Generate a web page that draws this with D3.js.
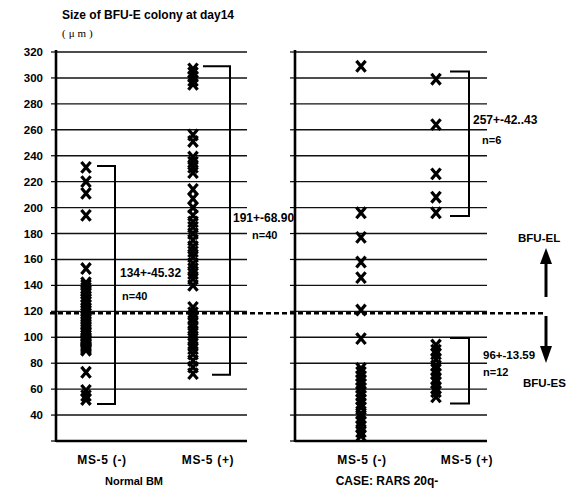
<!DOCTYPE html>
<html><head><meta charset="utf-8">
<script src="https://cdn.jsdelivr.net/npm/d3@7"></script>
<style>body{margin:0;background:#fff}svg{display:block}</style>
</head><body>
<svg id="c" width="572" height="488"></svg>
<script>
// ---- data ----
const tickValues = [40, 60, 80, 100, 120, 140, 160, 180, 200, 220, 240, 260, 280, 300, 320];
const categories = ["MS-5 (-)", "MS-5 (+)"];
const groups = ["Normal BM", "CASE: RARS 20q-"];
const threshold = 118.5;

const normalMinus = [231, 220, 211, 194, 153,
  142, 140, 138, 136, 134, 131, 129, 127, 125, 122, 120, 118, 116, 114, 112, 110,
  108, 106, 104, 103, 101, 99, 98, 97, 96, 95, 94, 93, 92, 91, 90,
  73, 59, 55, 52];
const normalPlus = [307, 304, 301, 298, 295,
  256, 251, 239, 235, 231, 227, 214, 207, 200, 194,
  189, 185, 180, 175, 170, 166, 162, 157, 153, 149, 145, 140,
  123, 119, 115, 111, 107, 103, 99, 95, 91, 87, 82, 77, 72];
const rarsMinus = [309, 196, 177, 158, 146, 121, 99,
  76, 73, 70, 67, 64, 61, 58, 55, 52, 49, 46, 41, 38, 35, 31, 27, 24];
const rarsPlusEL = [299, 264, 226, 208, 196];
const rarsPlusES = [94, 90, 87, 83, 78, 75, 72, 68, 65, 61, 58, 54];

const bracketTop    = [232, 309, 305, 99.5];
const bracketBottom = [48.5, 71, 193.5, 49];
const statMean = ["134+-45.32", "191+-68.90", "257+-42..43", "96+-13.59"];
const statN    = ["n=40", "n=40", "n=6", "n=12"];

// ---- layout ----
const svg = d3.select("#c");
const y = d3.scaleLinear().domain([20, 320]).range([441, 52]);
const panels = [
  {x0: 56, x1: 247, cols: [86, 193], labels: [102, 208], gx: 134, gsize: 11},
  {x0: 295, x1: 487, cols: [361, 436], labels: [362, 467], gx: 387, gsize: 12}
];
panels.forEach(p => {
  p.x = d3.scalePoint().domain(categories).range(p.cols);
  p.lx = d3.scalePoint().domain(categories).range(p.labels);
});

// grid + axes
panels.forEach((p, i) => {
  const g = svg.append("g");
  g.selectAll("line.grid").data(tickValues).join("line")
    .attr("x1", p.x0).attr("x2", p.x1)
    .attr("y1", d => y(d)).attr("y2", d => y(d))
    .attr("stroke", "#111").attr("stroke-width", 1.4);
  g.append("line").attr("x1", p.x0).attr("x2", p.x1)
    .attr("y1", y(20)).attr("y2", y(20)).attr("stroke", "#000").attr("stroke-width", 2.6);
  g.append("line").attr("x1", p.x0).attr("x2", p.x0)
    .attr("y1", y(320) - 2).attr("y2", y(20) + 1).attr("stroke", "#000").attr("stroke-width", 2.6);
  g.selectAll("line.tk").data([20].concat(tickValues)).join("line")
    .attr("x1", p.x0 - 5).attr("x2", p.x0)
    .attr("y1", d => y(d)).attr("y2", d => y(d))
    .attr("stroke", "#000").attr("stroke-width", 1.2);
  g.selectAll("text.cat").data(categories).join("text")
    .attr("x", d => p.lx(d)).attr("y", 464)
    .attr("text-anchor", "middle")
    .attr("font-family", "Liberation Sans, Arial, sans-serif")
    .attr("font-weight", "bold").attr("font-size", 12)
    .attr("letter-spacing", 0.7)
    .text(d => d);
  g.append("text").attr("x", p.gx).attr("y", 485)
    .attr("text-anchor", "middle")
    .attr("font-family", "Liberation Sans, Arial, sans-serif")
    .attr("font-weight", "bold").attr("font-size", p.gsize)
    .text(groups[i]);
});

// y tick labels
svg.append("g").selectAll("text").data(tickValues).join("text")
  .attr("x", 43).attr("y", d => y(d) + 4)
  .attr("text-anchor", "end")
  .attr("font-family", "Liberation Sans, Arial, sans-serif")
  .attr("font-weight", "bold").attr("font-size", 11.5)
  .text(d => d);

// title
svg.append("text").attr("x", 62).attr("y", 19)
  .attr("font-family", "Liberation Sans, Arial, sans-serif")
  .attr("font-weight", "bold").attr("font-size", 12)
  .text("Size of BFU-E colony at day14");
svg.append("text").attr("x", 62).attr("y", 37)
  .attr("font-family", "Liberation Serif, serif")
  .attr("font-size", 11).attr("letter-spacing", 3)
  .text("(μm)");

// threshold dashed line
svg.append("line").attr("x1", 50).attr("x2", 543)
  .attr("y1", y(threshold)).attr("y2", y(threshold))
  .attr("stroke", "#000").attr("stroke-width", 2.6)
  .attr("stroke-dasharray", "5,3");

// markers
const series = [
  {p: 0, cat: categories[0], vals: normalMinus},
  {p: 0, cat: categories[1], vals: normalPlus},
  {p: 1, cat: categories[0], vals: rarsMinus},
  {p: 1, cat: categories[1], vals: rarsPlusEL},
  {p: 1, cat: categories[1], vals: rarsPlusES}
];
const xPath = "M-4.6,-5.4L4.6,5.4M4.6,-5.4L-4.6,5.4";
series.forEach(s => {
  const px = panels[s.p].x(s.cat);
  svg.append("g").selectAll("path").data(s.vals).join("path")
    .attr("d", xPath)
    .attr("transform", d => `translate(${px},${y(d)})`)
    .attr("fill", "none").attr("stroke", "#000").attr("stroke-width", 3.2);
});

// brackets
const brackets = [
  {p: 0, cat: categories[0], l1: 11, l2: 11, v: 29, t1: [5, 277], t2: [7, 300]},
  {p: 0, cat: categories[1], l1: 10, l2: 19, v: 37, t1: [3, 222], t2: [22, 239]},
  {p: 1, cat: categories[1], l1: 14, l2: 14, v: 33, t1: [4, 124], t2: [13, 144]},
  {p: 1, cat: categories[1], l1: 14, l2: 14, v: 33, t1: [14, 359], t2: [14, 376]}
];
brackets.forEach((b, i) => {
  const cx = panels[b.p].x(b.cat);
  const vx = cx + b.v;
  const yt = y(bracketTop[i]), yb = y(bracketBottom[i]);
  svg.append("path")
    .attr("d", `M${cx + b.l1},${yt}H${vx}V${yb}H${cx + b.l2}`)
    .attr("fill", "none").attr("stroke", "#000").attr("stroke-width", 2);
  svg.append("text").attr("x", vx + b.t1[0]).attr("y", b.t1[1])
    .attr("font-family", "Liberation Sans, Arial, sans-serif")
    .attr("font-weight", "bold").attr("font-size", i === 3 ? 11.5 : 12)
    .text(statMean[i]);
  svg.append("text").attr("x", vx + b.t2[0]).attr("y", b.t2[1])
    .attr("font-family", "Liberation Sans, Arial, sans-serif")
    .attr("font-weight", "bold").attr("font-size", 11)
    .text(statN[i]);
});

// arrows + labels
const ax = 546;
svg.append("line").attr("x1", ax).attr("x2", ax).attr("y1", 297).attr("y2", 260)
  .attr("stroke", "#000").attr("stroke-width", 3);
svg.append("path").attr("d", `M${ax},248L${ax + 6},264L${ax - 6},264Z`).attr("fill", "#000");
svg.append("line").attr("x1", ax).attr("x2", ax).attr("y1", 316).attr("y2", 350)
  .attr("stroke", "#000").attr("stroke-width", 3);
svg.append("path").attr("d", `M${ax},363L${ax + 6},346L${ax - 6},346Z`).attr("fill", "#000");
svg.append("text").attr("x", 518).attr("y", 242)
  .attr("font-family", "Liberation Sans, Arial, sans-serif")
  .attr("font-weight", "bold").attr("font-size", 11.5).text("BFU-EL");
svg.append("text").attr("x", 523).attr("y", 387)
  .attr("font-family", "Liberation Sans, Arial, sans-serif")
  .attr("font-weight", "bold").attr("font-size", 11.5).text("BFU-ES");
</script>
</body></html>
